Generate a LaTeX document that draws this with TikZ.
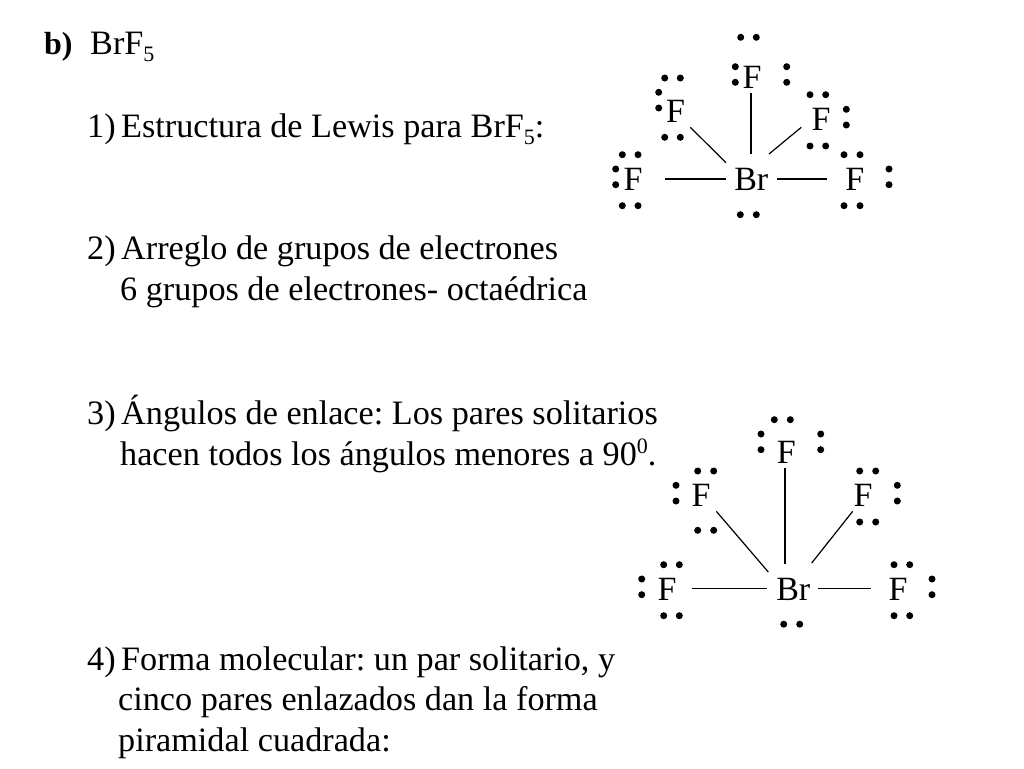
\documentclass[tikz,border=0pt]{standalone}
\usepackage{fontspec}
\setmainfont{Liberation Serif}
\frenchspacing
\newcommand{\subfive}{\raisebox{-7pt}{\fontsize{22}{22}\selectfont 5}}
\newcommand{\supzero}{\raisebox{12.5pt}{\fontsize{22}{22}\selectfont 0}}
\newcommand{\nb}{\hspace{-3pt}}
\tikzset{
  txt/.style={anchor=base west,inner sep=0pt,font=\fontsize{34.2}{40}\selectfont},
  atom/.style={anchor=base,inner sep=0pt,font=\fontsize{34}{40}\selectfont},
  bond/.style={draw=black,line width=1.2pt},
  lone/.style={fill=black}
}
\newcommand{\twodots}[4]{\fill[lone] (#1,#2) circle (3.5) (#3,#4) circle (3.5);}
\begin{document}
\begin{tikzpicture}[x=1pt,y=-1pt]
\useasboundingbox (0,0) rectangle (1024,768);
\fill[white] (0,0) rectangle (1024,768);
% text
\node[txt,font=\fontsize{32}{40}\selectfont] (tb) at (44,55) {\textbf{b)}};
\node[txt] (tt) at (90,55) {BrF\subfive};
\node[txt] (t1) at (87,137.5) {1) \nb Estructura de Lewis para BrF\subfive:};
\node[txt] (t2) at (87,259.5) {2) \nb Arreglo de grupos de electrones};
\node[txt] (t2b) at (120,300.5) {6 grupos de electrones- octaédrica};
\node[txt] (t3) at (87,424.5) {3) \nb Ángulos de enlace: Los pares solitarios};
\node[txt] (t3b) at (120,465.5) {hacen todos los ángulos menores a 90\supzero.};
\node[txt] (t4) at (87,670) {4) \nb Forma molecular: un par solitario, y};
\node[txt] (t4b) at (118,710) {cinco pares enlazados dan la forma};
\node[txt] (t4c) at (118,751) {piramidal cuadrada:};
% upper molecule
\node[atom] (A) at (751.3,190) {Br};
\node[atom] (A1) at (633,190) {F};
\node[atom] (A2) at (675.5,122) {F};
\node[atom] (A3) at (752,88) {F};
\node[atom] (A4) at (821,130.7) {F};
\node[atom] (A5) at (854.7,190) {F};
\draw[bond] ([shift={(32,-11)}]A1.base) -- ([shift={(-25.3,-11)}]A.base);
\draw[bond] ([shift={(14.8,5.3)}]A2.base) -- ([shift={(-25.3,-27.3)}]A.base);
\draw[bond] ([shift={(-1,5.3)}]A3.base) -- ([shift={(-0.3,-36)}]A.base);
\draw[bond] ([shift={(-19.7,-3.4)}]A4.base) -- ([shift={(17.7,-36)}]A.base);
\draw[bond] ([shift={(-27.7,-11)}]A5.base) -- ([shift={(26,-11)}]A.base);
\twodots{740.7}{37.3}{756.3}{37.3}
\twodots{735.3}{66.7}{735.3}{82.3}
\twodots{786.7}{66.7}{786.7}{82.3}
\twodots{664.7}{78}{680.3}{78}
\twodots{658.7}{92.3}{658.7}{108}
\twodots{664.7}{137.3}{680.3}{137.3}
\twodots{810}{94.7}{825.7}{94.7}
\twodots{846.3}{109.3}{846.3}{125}
\twodots{810}{146}{825.7}{146}
\twodots{622.3}{154.7}{638}{154.7}
\twodots{615.7}{169}{615.7}{184.7}
\twodots{622.3}{205.7}{638}{205.7}
\twodots{844}{154.7}{860}{154.7}
\twodots{889}{169}{889}{184.7}
\twodots{844}{205.7}{860}{205.7}
\twodots{740.3}{214.7}{756.3}{214.7}
% lower molecule
\node[atom] (B) at (793.3,600) {Br};
\node[atom] (B1) at (667,600) {F};
\node[atom] (B2) at (701,506) {F};
\node[atom] (B3) at (786.3,463) {F};
\node[atom] (B4) at (863,506) {F};
\node[atom] (B5) at (898,600) {F};
\draw[bond] ([shift={(25,-11.7)}]B1.base) -- ([shift={(-26.3,-11.7)}]B.base);
\draw[bond] ([shift={(15.3,5.3)}]B2.base) -- ([shift={(-25,-28)}]B.base);
\draw[bond] ([shift={(-1.3,5.3)}]B3.base) -- ([shift={(-8.3,-36.3)}]B.base);
\draw[bond] ([shift={(-10.3,5.3)}]B4.base) -- ([shift={(18.4,-37)}]B.base);
\draw[bond] ([shift={(-27.3,-11.7)}]B5.base) -- ([shift={(25,-11.7)}]B.base);
\twodots{774.3}{419.7}{790.3}{419.7}
\twodots{761}{434}{761}{449.7}
\twodots{820.7}{434}{820.7}{449.7}
\twodots{697.7}{471}{713.7}{471}
\twodots{676}{485.3}{676}{501}
\twodots{697.7}{530.3}{713.7}{530.3}
\twodots{859.7}{471}{875.7}{471}
\twodots{897.3}{485.3}{897.3}{501}
\twodots{859.7}{522}{875.7}{522}
\twodots{663.7}{564.7}{679.3}{564.7}
\twodots{641.7}{579}{641.7}{594.7}
\twodots{663.7}{615.7}{679.3}{615.7}
\twodots{894}{564.7}{909.7}{564.7}
\twodots{932}{579}{932}{594.7}
\twodots{894}{615.7}{909.7}{615.7}
\twodots{783.7}{624.2}{799.7}{624.2}
\end{tikzpicture}
\end{document}
